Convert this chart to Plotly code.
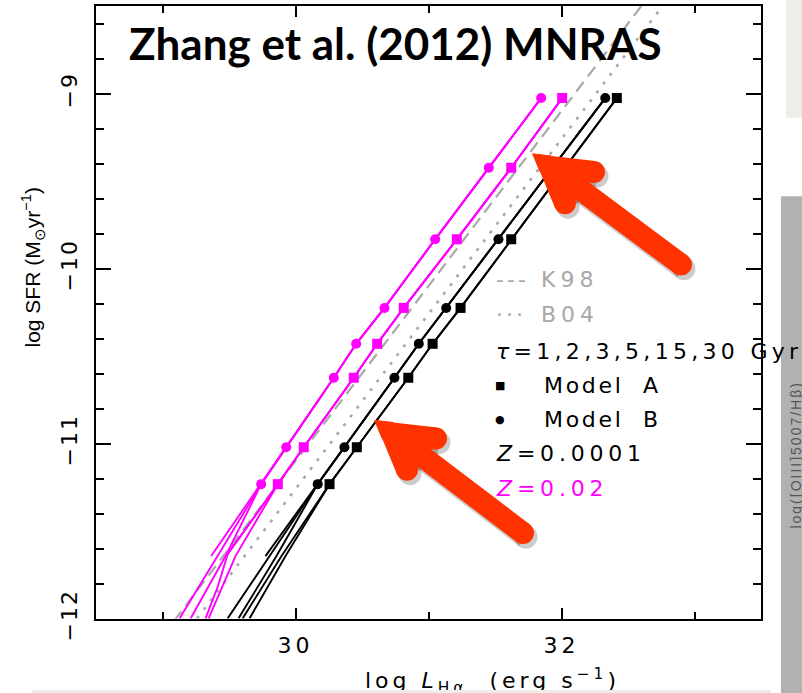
import numpy as np
import plotly.graph_objects as go

W, H = 802, 693          # reference frame (pixels of the picture)
FIG_H = 720              # rendered height (the photographed page is squeezed into 693 px)
SY = FIG_H / H

# ---------------- data ----------------
x_range = [28.5, 33.5]
y_range = [-12.0, -8.5]
x_tickvals = [30, 32]
x_ticktext = ["30", "32"]
y_tickvals = [-12, -11, -10, -9]
y_ticktext = ["−12", "−11", "−10", "−9"]

sfr_z02 = [-9.026, -9.424, -9.833, -10.225, -10.430, -10.624, -11.021, -11.232]
sfr_z0001 = [-9.026, -9.833, -10.225, -10.430, -10.624, -11.021, -11.232]

lha_z02_modelA = [32.005, 31.622, 31.213, 30.814, 30.614, 30.438, 30.062, 29.867]
lha_z02_modelB = [31.847, 31.453, 31.050, 30.669, 30.456, 30.288, 29.930, 29.742]
lha_z0001_modelA = [32.416, 31.622, 31.241, 31.031, 30.848, 30.461, 30.256]
lha_z0001_modelB = [32.329, 31.526, 31.133, 30.927, 30.744, 30.368, 30.167]

# faint ends of the individual tau tracks (below the last marked point)
tail_z02_B_L = [[29.414, 29.128], [29.474, 29.211], [29.366]]
tail_z02_B_S = [[-11.643, -12.0], [-11.643, -12.0], [-11.643]]
tail_z02_A_L = [[29.491, 29.416, 29.323], [29.549, 29.346], [29.479]]
tail_z02_A_S = [[-11.630, -11.817, -12.0], [-11.643, -12.0], [-11.643]]
tail_z0001_B_L = [[29.805, 29.489], [29.857, 29.571], [29.774]]
tail_z0001_B_S = [[-11.643, -12.0], [-11.643, -12.0], [-11.643]]
tail_z0001_A_L = [[29.895, 29.602], [29.925, 29.654]]
tail_z0001_A_S = [[-11.643, -12.0], [-11.643, -12.0]]

# calibrations
k98_L = [29.0, 32.7]
k98_S = [-12.1, -8.4]
b04_L = [29.16, 32.86]
b04_S = [-12.1, -8.4]

MAG = "#FF00FF"
GRAY = "#A8A8A8"


def sp(t, ls=5):
    return f'<span style="letter-spacing:{ls}px">{t}</span>'


fig = go.Figure()

fig.add_trace(go.Scatter(x=k98_L, y=k98_S, mode="lines",
                         line=dict(color=GRAY, width=2.2, dash="12px,7px")))
fig.add_trace(go.Scatter(x=b04_L, y=b04_S, mode="lines",
                         line=dict(color=GRAY, width=2.6, dash="3px,8px")))

groups = [
    (lha_z02_modelB, sfr_z02, tail_z02_B_L, tail_z02_B_S, MAG, "circle"),
    (lha_z02_modelA, sfr_z02, tail_z02_A_L, tail_z02_A_S, MAG, "square"),
    (lha_z0001_modelB, sfr_z0001, tail_z0001_B_L, tail_z0001_B_S, "black", "circle"),
    (lha_z0001_modelA, sfr_z0001, tail_z0001_A_L, tail_z0001_A_S, "black", "square"),
]
for lx, ly, tl, ts, col, sym in groups:
    for tx, ty in zip(tl, ts):
        fig.add_trace(go.Scatter(x=lx + tx, y=ly + ty, mode="lines",
                                 line=dict(color=col, width=1.9)))
for lx, ly, tl, ts, col, sym in groups:
    fig.add_trace(go.Scatter(x=lx, y=ly, mode="markers",
                             marker=dict(color=col, symbol=sym, size=10, line=dict(width=0))))

# ---------------- red arrows (pixel space overlay) ----------------
RED = "#FF3300"


def arrow_traces(V, W1, W2, tail, w, color, dx=0, dy=0):
    V = np.array(V, float) + [dx, dy]
    W1 = np.array(W1, float) + [dx, dy]
    W2 = np.array(W2, float) + [dx, dy]
    tail = np.array(tail, float) + [dx, dy]
    d1 = (W1 - V) / np.linalg.norm(W1 - V)
    d2 = (W2 - V) / np.linalg.norm(W2 - V)
    half = np.arccos(np.clip(d1 @ d2, -1, 1)) / 2
    bis = (d1 + d2) / np.linalg.norm(d1 + d2)
    T = V - (w / 2) / np.sin(half) * bis
    n1 = np.array([d1[1], -d1[0]])
    if n1 @ d2 > 0:
        n1 = -n1
    n2 = np.array([d2[1], -d2[0]])
    if n2 @ d1 > 0:
        n2 = -n2
    poly = [V + w / 2 * n1, T, V + w / 2 * n2, V, V + w / 2 * n1]
    tr = []
    tr.append(go.Scatter(x=[p[0] for p in poly], y=[p[1] for p in poly], xaxis="x2", yaxis="y2",
                         mode="lines", fill="toself", fillcolor=color,
                         line=dict(color=color, width=1), hoverinfo="skip"))
    xs = [W1[0], V[0], None, V[0], W2[0], None, V[0], tail[0]]
    ys = [W1[1], V[1], None, V[1], W2[1], None, V[1], tail[1]]
    tr.append(go.Scatter(x=xs, y=ys, xaxis="x2", yaxis="y2", mode="lines",
                         line=dict(color=color, width=w), hoverinfo="skip"))
    tr.append(go.Scatter(x=[W1[0], W2[0], tail[0], V[0]], y=[W1[1], W2[1], tail[1], V[1]],
                         xaxis="x2", yaxis="y2", mode="markers",
                         marker=dict(color=color, size=w, line=dict(width=0)), hoverinfo="skip"))
    return tr


arrows = [
    ((550, 166), (594, 171), (565, 202), (681, 263)),
    ((392, 431), (436, 436), (407, 467), (523, 530)),
]
for a in arrows:
    for t in arrow_traces(*a, 23, "rgba(0,0,0,0.2)", 3, 4):
        fig.add_trace(t)
for a in arrows:
    for t in arrow_traces(*a, 22, RED):
        fig.add_trace(t)

# ---------------- layout ----------------
tickfont = dict(family="DejaVu Sans", size=22, color="black")
fig.update_layout(
    width=W, height=FIG_H, autosize=False, margin=dict(l=0, r=0, t=0, b=0, pad=0),
    paper_bgcolor="white", plot_bgcolor="rgba(0,0,0,0)", showlegend=False,
    xaxis=dict(domain=[96 / W, 761 / W], range=x_range, anchor="y",
               showline=True, linecolor="black", linewidth=2, mirror="ticks",
               ticks="inside", ticklen=11, tickwidth=1.5, tickcolor="black",
               tickmode="array", tickvals=x_tickvals, ticktext=[sp(t, 4) for t in x_ticktext],
               showgrid=False, zeroline=False,
               minor=dict(tickmode="linear", tick0=29, dtick=1, ticks="inside", ticklen=7,
                          tickwidth=1.5, tickcolor="black", showgrid=False),
               tickfont=tickfont, ticklabelstandoff=6),
    yaxis=dict(domain=[1 - 615 / H, 1 - 6 / H], range=y_range, anchor="x",
               showline=True, linecolor="black", linewidth=2, mirror="ticks",
               ticks="inside", ticklen=15, tickwidth=1.5, tickcolor="black",
               tickmode="array", tickvals=y_tickvals, ticktext=[sp(t, 2) for t in y_ticktext],
               showgrid=False, zeroline=False,
               minor=dict(tickmode="linear", tick0=-12, dtick=0.2, ticks="inside", ticklen=8,
                          tickwidth=1.5, tickcolor="black", showgrid=False),
               tickangle=-90, tickfont=tickfont, ticklabelstandoff=8),
    xaxis2=dict(domain=[0, 1], range=[0, W], anchor="y2", visible=False, fixedrange=True),
    yaxis2=dict(domain=[0, 1], range=[H, 0], anchor="x2", visible=False, fixedrange=True),
)


def px(x):
    return x / W


def py(y):
    return 1 - y / H


# background boxes from the slide
fig.add_shape(type="rect", xref="paper", yref="paper", x0=px(781), x1=1, y0=0, y1=py(195),
              fillcolor="#B1B1B1", line=dict(width=0), layer="below")
fig.add_shape(type="rect", xref="paper", yref="paper", x0=px(786), x1=1, y0=py(117), y1=1,
              fillcolor="#EEEEE6", line=dict(width=0), layer="below")

ann = []
ann.append(dict(text=sp("log([OIII]5007/Hβ)", 2), x=px(796), y=py(452), xref="paper", yref="paper",
                xanchor="center", yanchor="middle",
                textangle=-90, showarrow=False, font=dict(family="Liberation Sans", size=14, color="#555555")))
ann.append(dict(text="<b>Zhang et al. (2012) MNRAS</b>", x=px(127), y=py(43), xref="paper", yref="paper",
                xanchor="left", yanchor="middle", showarrow=False,
                font=dict(family="Lato", size=44, color="black")))
ann.append(dict(text="log SFR (M<sub>⊙</sub>yr<sup>−1</sup>)", x=px(33), y=py(266), xref="paper", yref="paper",
                xanchor="center", yanchor="middle",
                textangle=-90, showarrow=False, font=dict(family="Liberation Sans", size=21, color="black")))
ann.append(dict(text=sp("log <i>L</i><sub>Hα</sub>  (erg s<sup>−1</sup>)", 4), x=px(493), y=py(677),
                xref="paper", yref="paper", xanchor="center", yanchor="middle", showarrow=False,
                font=dict(family="DejaVu Sans", size=22, color="black")))
ann.append(dict(text=" ", x=px(32), y=py(686), xref="paper", yref="paper", xanchor="left", yanchor="top",
                width=739, height=8 * SY, bgcolor="#EEEEE6", borderpad=0, borderwidth=0, showarrow=False,
                font=dict(size=4)))

LF = dict(family="DejaVu Sans", size=22, color="black")
leg = [
    (495, 278, sp("---", 3), dict(LF, color=GRAY)),
    (540, 278, sp("K98", 5), dict(LF, color=GRAY)),
    (495, 313, sp("···", 3), dict(LF, color=GRAY)),
    (540, 313, sp("B04", 5), dict(LF, color=GRAY)),
    (495, 349, sp("<i>τ</i>=1,2,3,5,15,30 Gyr", 4.3), LF),
    (494, 383, "■", dict(LF, size=11)),
    (543, 383, sp("Model  A", 2.7), LF),
    (494, 417, "●", dict(LF, size=11)),
    (543, 417, sp("Model  B", 2.7), LF),
    (495, 451, sp("<i>Z</i>=0.0001", 4.8), LF),
    (495, 486, sp("<i>Z</i>=0.02", 4.8), dict(LF, color=MAG)),
]
for x, y, t, f in leg:
    ann.append(dict(text=t, x=px(x), y=py(y), xref="paper", yref="paper", xanchor="left",
                    yanchor="middle", showarrow=False, font=f, borderpad=0))

fig.update_layout(annotations=ann)
fig.write_html("out.html", config={"displayModeBar": False, "responsive": False},
               post_script="document.body.style.margin='0';document.body.style.overflow='hidden';")
